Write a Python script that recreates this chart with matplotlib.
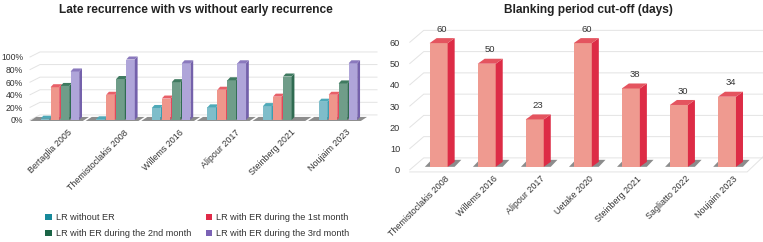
import numpy as np
import matplotlib.pyplot as plt
from matplotlib.patches import Polygon, Patch
from matplotlib.transforms import ScaledTranslation

plt.rcParams['font.family'] = ['Liberation Sans', 'DejaVu Sans']

# ------------------------
# Data
# ------------------------
studies_lr = ["Bertaglia 2005", "Themistoclakis 2008", "Willems 2016",
              "Alipour 2017", "Steinberg 2021", "Noujaim 2023"]
lr_without_er = [2, 1, 19, 20, 22, 29]
lr_er_month1 = [52, 40, 34, 48, 37, 40]
lr_er_month2 = [54, 65, 60, 63, 69, 58]
lr_er_month3 = [77, 96, 90, 90, np.nan, 90]
series_names = ["LR without ER", "LR with ER during the 1st month",
                "LR with ER during the 2nd month", "LR with ER during the 3rd month"]
pct_ticks = [0, 20, 40, 60, 80, 100]

studies_bp = ["Themistoclakis 2008", "Willems 2016", "Alipour 2017", "Uetake 2020",
              "Steinberg 2021", "Sagliatto 2022", "Noujaim 2023"]
blanking_days = [60, 50, 23, 60, 38, 30, 34]
day_ticks = [0, 10, 20, 30, 40, 50, 60]

# colours: (front, side, top) per series, plus legend swatch
front_cols = ["#7fbdca", "#ef968b", "#6f9d89", "#afa5d9"]
side_cols = ["#3b9db0", "#e2485a", "#2f6b51", "#7461ab"]
top_cols = ["#4fa9b8", "#e86068", "#3f7a60", "#8a79bd"]
legend_cols = ["#17899a", "#e02a48", "#1a6446", "#7b62b5"]


def bar3d(ax, x, w, h, base, dx, dy, fc, sc, tc, z=3):
    # front face
    ax.add_patch(Polygon([(x, base), (x + w, base), (x + w, base + h), (x, base + h)],
                         closed=True, fc=fc, ec="none", zorder=z))
    # side face
    ax.add_patch(Polygon([(x + w, base), (x + w + dx, base + dy),
                          (x + w + dx, base + h + dy), (x + w, base + h)],
                         closed=True, fc=sc, ec="none", zorder=z))
    # top face
    ax.add_patch(Polygon([(x, base + h), (x + dx, base + h + dy),
                          (x + w + dx, base + h + dy), (x + w, base + h)],
                         closed=True, fc=tc, ec="none", zorder=z))


W, H = 763, 242
fig = plt.figure(figsize=(W / 100, H / 100), dpi=100)


def px_axes(left, right, bottom_from_top, top_from_top):
    return fig.add_axes([left / W, 1 - bottom_from_top / H,
                         (right - left) / W, (bottom_from_top - top_from_top) / H])


# ------------------------
# Left chart
# ------------------------
ax1 = px_axes(30, 377, 125, 50.7)
ax1.set_xlim(-0.54, 5.70)
ax1.set_ylim(-8, 110)

series = [lr_without_er, lr_er_month1, lr_er_month2, lr_er_month3]
slot, bw, bdx, bdy = 0.18, 0.155, 0.05, 4.8
gdx, gdy = 0.18, 8

for t in pct_ticks:
    ax1.plot([-0.54, -0.54 + gdx, 5.70], [t, t + gdy, t + gdy],
             color="#e3e3e3", lw=0.7, zorder=1, clip_on=False)

for i in range(len(studies_lr)):
    ax1.add_patch(Polygon([(i - 0.54, -1.6), (i + 0.41, -1.6),
                           (i + 0.52, 4.8), (i - 0.43, 4.8)],
                          closed=True, fc="#8c8c8c", ec="none", zorder=2))
    for k, s in enumerate(series):
        v = s[i]
        if np.isnan(v):
            continue
        bar3d(ax1, i - 2 * slot + k * slot + 0.01, bw, v, 0, bdx, bdy,
              front_cols[k], side_cols[k], top_cols[k], z=3 + k)

ax1.set_yticks(pct_ticks)
ax1.set_yticklabels([f"{t}%" for t in pct_ticks])
ax1.set_xticks(range(len(studies_lr)))
ax1.set_xticklabels(studies_lr, rotation=45, ha="right", rotation_mode="anchor")
ax1.tick_params(axis="y", length=0, pad=5, labelsize=6.2, labelcolor="#333333")
ax1.tick_params(axis="x", length=0, pad=2, labelsize=6.4, labelcolor="#333333")
for lab in ax1.get_xticklabels():
    lab.set_transform(lab.get_transform() + ScaledTranslation(8 / 100, 0, fig.dpi_scale_trans))
for sp in ax1.spines.values():
    sp.set_visible(False)

fig.text(196 / W, 1 - 10 / H, "Late recurrence with vs without early recurrence",
         ha="center", va="center", fontsize=8.6, fontweight="bold", color="#222222")

handles = [Patch(fc=legend_cols[k], ec="none") for k in range(4)]
order = [0, 2, 1, 3]
fig.legend([handles[k] for k in order], [series_names[k] for k in order],
           ncol=2, frameon=False, loc="center left",
           bbox_to_anchor=(37 / W, 1 - 225.5 / H), fontsize=6.6,
           handlelength=0.7, handleheight=0.7, handletextpad=0.45,
           columnspacing=1.6, labelspacing=0.75, labelcolor="#333333")

# ------------------------
# Right chart
# ------------------------
ax2 = px_axes(405, 763, 173, 21)
ax2.set_xlim(-0.7, 6.75)
ax2.set_ylim(-1.5, 70)

rw, rdx, rdy = 0.375, 0.146, 2.35
base2, depth_scale = 1.4, 0.97
g2dx, g2dy = 0.29, 5.6

for t in day_ticks:
    ax2.plot([-0.6, -0.6 + g2dx, 6.75], [t, t + g2dy, t + g2dy],
             color="#e3e3e3", lw=0.7, zorder=1, clip_on=False)
# floor outline
ax2.plot([-0.6, 6.42, 6.75], [-1, -1, g2dy + 0.5], color="#e3e3e3", lw=0.7,
         zorder=1, clip_on=False)

for i, v in enumerate(blanking_days):
    xl = i - rw / 2
    ax2.add_patch(Polygon([(xl - 0.1, base2), (xl + 0.52, base2),
                           (xl + 0.66, base2 + 3.3), (xl + 0.04, base2 + 3.3)],
                          closed=True, fc="#8c8c8c", ec="none", zorder=2))
    h = v * depth_scale
    bar3d(ax2, xl, rw, h, base2, rdx, rdy, "#ef9a90", "#dd2c46", "#e4545f")
    ax2.text(i + rdx / 2, base2 + h + rdy + 2.0, str(v), ha="center", va="bottom",
             fontsize=6.8, color="#333333")

ax2.set_yticks(day_ticks)
ax2.set_xticks(range(len(studies_bp)))
ax2.set_xticklabels(studies_bp, rotation=45, ha="right", rotation_mode="anchor")
ax2.tick_params(axis="y", length=0, pad=3.5, labelsize=6.6, labelcolor="#333333")
ax2.tick_params(axis="x", length=0, pad=1, labelsize=6.4, labelcolor="#333333")
for lab in ax2.get_xticklabels():
    lab.set_transform(lab.get_transform() + ScaledTranslation(6 / 100, 0, fig.dpi_scale_trans))
for sp in ax2.spines.values():
    sp.set_visible(False)

fig.text(588 / W, 1 - 10 / H, "Blanking period cut-off (days)",
         ha="center", va="center", fontsize=8.6, fontweight="bold", color="#222222")

fig.savefig("out.png", dpi=100)
